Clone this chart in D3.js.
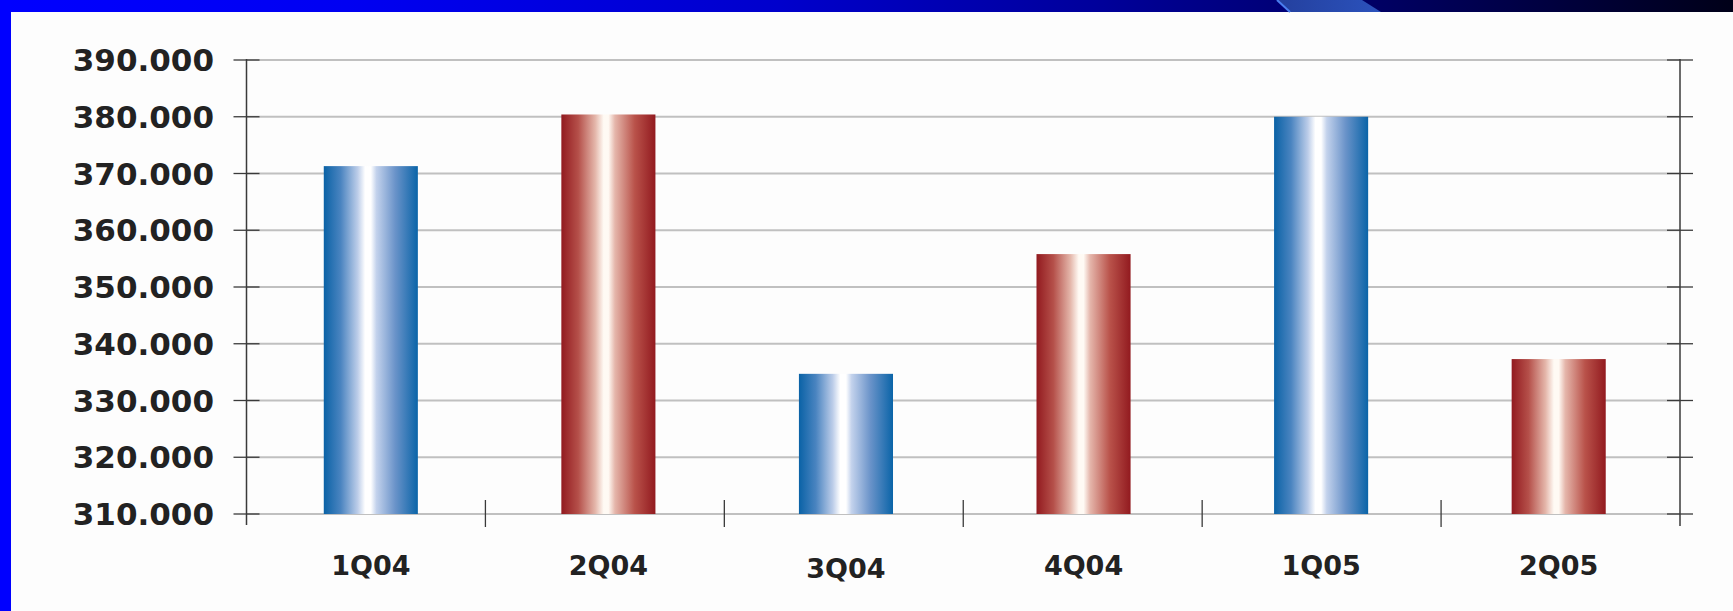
<!DOCTYPE html>
<html>
<head>
<meta charset="utf-8">
<script src="https://cdn.jsdelivr.net/npm/d3@7/dist/d3.min.js"></script>
<style>
  html, body { margin: 0; padding: 0; background: #fdfdfd; }
  svg { display: block; }
</style>
</head>
<body>
<script>
// ---- data ----
const categories = ["1Q04", "2Q04", "3Q04", "4Q04", "1Q05", "2Q05"];
const values = [371300, 380400, 334700, 355800, 380000, 337300];
const seriesColor = ["blue", "red", "blue", "red", "blue", "red"];
const yTicks = [310000, 320000, 330000, 340000, 350000, 360000, 370000, 380000, 390000];
const yTickLabels = ["310.000", "320.000", "330.000", "340.000", "350.000", "360.000", "370.000", "380.000", "390.000"];

(function () {
const W = 1733, H = 611;
const svg = d3.select("body").append("svg").attr("width", W).attr("height", H);
const defs = svg.append("defs");

svg.append("rect").attr("x", 0).attr("y", 0).attr("width", W).attr("height", H).attr("fill", "#fdfdfd");

// top band gradient
const band = defs.append("linearGradient").attr("id", "band").attr("x1", 0).attr("x2", 1).attr("y1", 0).attr("y2", 0);
[[0, "#0000ff"], [0.2, "#0000f2"], [0.45, "#0000cc"], [0.63, "#00009c"], [0.8, "#000062"], [1, "#000018"]]
  .forEach(([o, c]) => band.append("stop").attr("offset", o).attr("stop-color", c));
svg.append("rect").attr("x", 0).attr("y", 0).attr("width", W).attr("height", 12).attr("fill", "url(#band)");
const hl = defs.append("linearGradient").attr("id", "hl").attr("x1", 0).attr("x2", 1).attr("y1", 0).attr("y2", 0);
hl.append("stop").attr("offset", 0).attr("stop-color", "#24409e");
hl.append("stop").attr("offset", 1).attr("stop-color", "#2b52bc");
svg.append("polygon").attr("points", "1277,0 1362,0 1381,12 1290,12").attr("fill", "url(#hl)");
svg.append("line").attr("x1", 1277).attr("y1", 0).attr("x2", 1290).attr("y2", 12)
  .attr("stroke", "#4a7ef0").attr("stroke-width", 2);
svg.append("rect").attr("x", 0).attr("y", 0).attr("width", 11).attr("height", H).attr("fill", "#0000ff");

function makeGrad(id, stops) {
  const g = defs.append("linearGradient").attr("id", id).attr("x1", 0).attr("x2", 1).attr("y1", 0).attr("y2", 0);
  stops.forEach(([o, c]) => g.append("stop").attr("offset", o).attr("stop-color", c));
}
makeGrad("blue", [[0, "#0a62a6"], [0.18, "#4a84c0"], [0.36, "#bccde9"], [0.44, "#ffffff"], [0.5, "#ffffff"], [0.56, "#c3d2ec"], [0.76, "#6a93c9"], [1, "#0a64a8"]]);
makeGrad("red", [[0, "#921a1f"], [0.18, "#b5504a"], [0.36, "#e4b6aa"], [0.45, "#fffaf4"], [0.5, "#fffaf4"], [0.57, "#e5b6ab"], [0.78, "#b9524a"], [1, "#921a1f"]]);

const pLeft = 246.5, pRight = 1680, pTop = 60, pBottom = 514;
const y = d3.scaleLinear().domain([310000, 390000]).range([pBottom, pTop]);
const xSlot = d3.scaleBand().domain(categories).range([pLeft, pRight]).padding(0);
const x = d3.scaleBand().domain(categories).range([pLeft + 6, pRight - 3]).paddingInner(0.604).paddingOuter(0.3);

svg.append("g").selectAll("line").data(yTicks).join("line")
  .attr("x1", pLeft).attr("x2", pRight)
  .attr("y1", d => y(d)).attr("y2", d => y(d))
  .attr("stroke", "#c0c0c0").attr("stroke-width", 2);

svg.append("g").selectAll("rect").data(categories).join("rect")
  .attr("x", d => x(d))
  .attr("width", x.bandwidth())
  .attr("y", (d, i) => y(values[i]))
  .attr("height", (d, i) => y(310000) - y(values[i]))
  .attr("fill", (d, i) => `url(#${seriesColor[i]})`);

const axisColor = "#3a3a3a";
svg.append("line").attr("x1", pLeft).attr("x2", pLeft).attr("y1", pTop - 1).attr("y2", pBottom + 11)
  .attr("stroke", axisColor).attr("stroke-width", 1.5);
svg.append("g").selectAll("line").data(yTicks).join("line")
  .attr("x1", pLeft - 13).attr("x2", pLeft + 13)
  .attr("y1", d => y(d)).attr("y2", d => y(d))
  .attr("stroke", axisColor).attr("stroke-width", 1.3);
svg.append("line").attr("x1", pRight).attr("x2", pRight).attr("y1", pTop - 1).attr("y2", pBottom + 12)
  .attr("stroke", axisColor).attr("stroke-width", 1.5);
svg.append("g").selectAll("line").data(yTicks).join("line")
  .attr("x1", pRight - 13).attr("x2", pRight + 13)
  .attr("y1", d => y(d)).attr("y2", d => y(d))
  .attr("stroke", axisColor).attr("stroke-width", 1.3);

svg.append("g").selectAll("line").data(categories.slice(1)).join("line")
  .attr("x1", d => xSlot(d)).attr("x2", d => xSlot(d))
  .attr("y1", pBottom - 14).attr("y2", pBottom + 13)
  .attr("stroke", axisColor).attr("stroke-width", 1.3);

svg.append("g").selectAll("text").data(yTicks).join("text")
  .attr("x", 214).attr("y", d => y(d))
  .attr("text-anchor", "end").attr("dominant-baseline", "central")
  .attr("font-family", "'DejaVu Sans', sans-serif").attr("font-weight", "bold")
  .attr("font-size", 31).attr("fill", "#222")
  .text((d, i) => yTickLabels[i]);

svg.append("g").selectAll("text").data(categories).join("text")
  .attr("x", d => x(d) + x.bandwidth() / 2)
  .attr("y", d => d === "3Q04" ? 568 : 565)
  .attr("text-anchor", "middle").attr("dominant-baseline", "central")
  .attr("font-family", "'DejaVu Sans', sans-serif").attr("font-weight", "bold")
  .attr("font-size", 27).attr("fill", "#222")
  .text(d => d);
})();
</script>
</body>
</html>
